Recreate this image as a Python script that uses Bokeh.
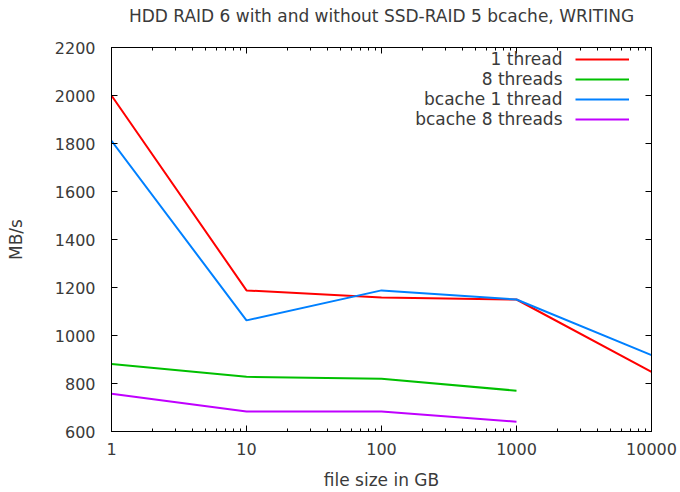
from bokeh.plotting import figure
from bokeh.models import (LogAxis, LinearAxis, FixedTicker, Legend, LegendItem,
                          Label, Range1d, PrintfTickFormatter)
from bokeh.embed import file_html
from bokeh.resources import INLINE

# Write throughput (MB/s) by file size (GB)
file_size_gb = [1, 10, 100, 1000, 10000]
one_thread = [2000, 1188, 1158, 1150, 848]
eight_threads = [881, 828, 820, 770]
bcache_one_thread = [1811, 1063, 1188, 1150, 918]
bcache_eight_threads = [757, 683, 683, 641]

series_names = ["1 thread", "8 threads", "bcache 1 thread", "bcache 8 threads"]
series_colors = ["#ff0000", "#00c000", "#0080ff", "#c000ff"]
series_values = [one_thread, eight_threads, bcache_one_thread, bcache_eight_threads]

x_ticks = [1, 10, 100, 1000, 10000]
x_minor_ticks = [m * 10 ** k for k in range(4) for m in range(2, 10)]
y_ticks = list(range(600, 2201, 200))

TITLE = "HDD RAID 6 with and without SSD-RAID 5 bcache, WRITING"
FONT = "DejaVu Sans"
TEXT = "#3a3a3a"
FS = "16px"
FS_TEXT = "17px"

p = figure(width=680, height=492, x_axis_type="log", title=None,
           x_range=Range1d(1, 10000), y_range=Range1d(600, 2200),
           output_backend="svg", toolbar_location=None,
           min_border_left=111, min_border_right=29,
           min_border_top=47, min_border_bottom=58)
p.grid.visible = False
p.outline_line_color = "black"
p.outline_line_width = 1

x_ticker = FixedTicker(ticks=x_ticks, minor_ticks=x_minor_ticks)
y_ticker = FixedTicker(ticks=y_ticks, minor_ticks=[])


def style_axis(ax, show_labels):
    ax.axis_line_color = "black"
    ax.major_tick_line_color = "black"
    ax.minor_tick_line_color = "black"
    ax.major_tick_in = 6
    ax.major_tick_out = 0
    ax.minor_tick_in = 3
    ax.minor_tick_out = 0
    ax.major_label_text_font = FONT
    ax.major_label_text_color = TEXT
    ax.axis_label_text_font = FONT
    ax.axis_label_text_font_size = FS_TEXT
    ax.axis_label_text_font_style = "normal"
    ax.axis_label_text_color = TEXT
    if show_labels:
        ax.major_label_text_font_size = FS
    else:
        ax.major_label_text_font_size = "1px"
        ax.major_label_text_alpha = 0
        ax.major_label_standoff = 0


xa = p.xaxis[0]
xa.ticker = x_ticker
xa.formatter = PrintfTickFormatter(format="%d")
xa.axis_label = "file size in GB"
style_axis(xa, True)
xa.major_label_standoff = 11
xa.axis_label_standoff = 12

ya = p.yaxis[0]
ya.ticker = y_ticker
ya.axis_label = "MB/s"
style_axis(ya, True)
ya.major_label_standoff = 16
ya.axis_label_standoff = 26

# mirrored top axis; its label carries the chart title
top = LogAxis(ticker=x_ticker, axis_label=TITLE)
style_axis(top, False)
top.axis_label_standoff = 22
p.add_layout(top, "above")
right = LinearAxis(ticker=y_ticker)
style_axis(right, False)
p.add_layout(right, "right")

renderers = []
for name, color, vals in zip(series_names, series_colors, series_values):
    r = p.line(file_size_gb[:len(vals)], vals, line_color=color, line_width=2)
    renderers.append(r)

# line samples on the right, names right-aligned to their left
legend = Legend(items=[LegendItem(label=" ", renderers=[r]) for r in renderers],
                location=(464, 302), glyph_width=54, glyph_height=20,
                label_height=20, label_width=1, label_standoff=0,
                spacing=0, padding=0, margin=0,
                border_line_alpha=0, background_fill_alpha=0,
                label_text_font_size="8px", label_text_alpha=0)
p.add_layout(legend, "center")

for i, name in enumerate(series_names):
    p.add_layout(Label(x=451, y=373 - 20 * i, x_units="screen", y_units="screen",
                       text=name, text_align="right", text_baseline="middle",
                       text_font=FONT, text_font_size=FS_TEXT, text_color=TEXT))

open("out.html", "w").write(file_html(p, INLINE))
